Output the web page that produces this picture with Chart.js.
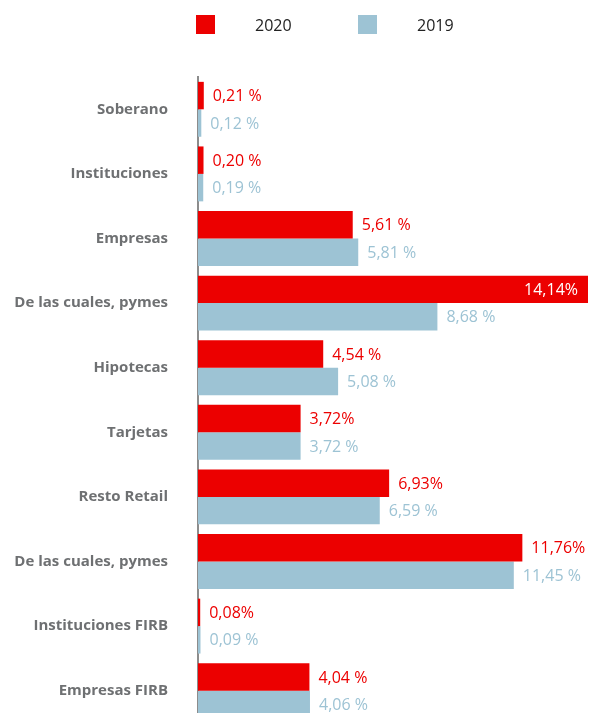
<!DOCTYPE html>
<html>
<head>
<meta charset="utf-8">
<script src="https://cdn.jsdelivr.net/npm/chart.js@4.4.1/dist/chart.umd.min.js"></script>
<style>
  html, body { margin: 0; padding: 0; background: #fff; overflow: hidden; width: 590px; height: 713px; }
  #c { position: absolute; left: 0; top: 0; }
  #legend { position: absolute; top: 15px; left: 0; width: 590px; height: 20px; font-family: "Open Sans", sans-serif; font-size: 16px; color: #222; }
  .box { position: absolute; top: 0; left: 0; width: 19px; height: 19px; }
  .lbl { position: absolute; top: -1px; white-space: nowrap; line-height: 22px; }
</style>
</head>
<body>
<canvas id="c" width="590" height="723"></canvas>
<div id="legend"></div>
<script>
const categories = ["Soberano", "Instituciones", "Empresas", "De las cuales, pymes", "Hipotecas", "Tarjetas", "Resto Retail", "De las cuales, pymes", "Instituciones FIRB", "Empresas FIRB"];
const seriesNames = ["2020", "2019"];
const values2020 = [0.21, 0.20, 5.61, 14.14, 4.54, 3.72, 6.93, 11.76, 0.08, 4.04];
const values2019 = [0.12, 0.19, 5.81, 8.68, 5.08, 3.72, 6.59, 11.45, 0.09, 4.06];
const labels2020 = ["0,21 %", "0,20 %", "5,61 %", "14,14%", "4,54 %", "3,72%", "6,93%", "11,76%", "0,08%", "4,04 %"];
const labels2019 = ["0,12 %", "0,19 %", "5,81 %", "8,68 %", "5,08 %", "3,72 %", "6,59 %", "11,45 %", "0,09 %", "4,06 %"];

const RED = "#ec0000";
const BLUE = "#9dc3d4";
const colors = [RED, BLUE];
const valueLabels = [labels2020, labels2019];

// HTML legend
const legend = document.getElementById("legend");
const legendPos = [[196, 255], [358, 417]];
seriesNames.forEach((name, i) => {
  const b = document.createElement("div");
  b.className = "box";
  b.style.left = legendPos[i][0] + "px";
  b.style.background = colors[i];
  legend.appendChild(b);
  const t = document.createElement("div");
  t.className = "lbl";
  t.style.left = legendPos[i][1] + "px";
  t.textContent = name;
  legend.appendChild(t);
});

const valueLabelPlugin = {
  id: "valueLabels",
  afterDatasetsDraw(chart) {
    const ctx = chart.ctx;
    ctx.save();
    ctx.font = "16px 'Open Sans', sans-serif";
    ctx.textBaseline = "middle";
    chart.data.datasets.forEach((ds, di) => {
      const meta = chart.getDatasetMeta(di);
      meta.data.forEach((bar, i) => {
        const txt = valueLabels[di][i];
        const w = ctx.measureText(txt).width;
        if (bar.x + 10 + w > chart.chartArea.right + 2) {
          ctx.fillStyle = "#ffffff";
          ctx.textAlign = "right";
          ctx.fillText(txt, bar.x - 10, bar.y + 1);
        } else {
          ctx.fillStyle = colors[di];
          ctx.textAlign = "left";
          ctx.fillText(txt, bar.x + 9, bar.y + 1);
        }
      });
    });
    ctx.restore();
  }
};

new Chart(document.getElementById("c"), {
  type: "bar",
  data: {
    labels: categories,
    datasets: [
      { label: seriesNames[0], data: values2020, backgroundColor: RED, categoryPercentage: 0.85, barPercentage: 1.0 },
      { label: seriesNames[1], data: values2019, backgroundColor: BLUE, categoryPercentage: 0.85, barPercentage: 1.0 }
    ]
  },
  options: {
    indexAxis: "y",
    responsive: false,
    animation: false,
    layout: { padding: { top: 77, right: 2, bottom: 0, left: 0 } },
    plugins: { legend: { display: false }, tooltip: { enabled: false } },
    scales: {
      x: { display: false, min: 0, max: 14.14 },
      y: {
        z: 1,
        grid: { display: false, drawTicks: false },
        border: { display: true, color: "#8c8c8c", width: 2 },
        ticks: {
          padding: 30,
          color: "#6e7072",
          font: { family: "'Open Sans', sans-serif", size: 15, weight: "bold" }
        },
        afterFit(scale) {
          scale.width = 198;
          scale.paddingTop = 0;
          scale.paddingBottom = 0;
        }
      }
    }
  },
  plugins: [valueLabelPlugin]
});
</script>
</body>
</html>
